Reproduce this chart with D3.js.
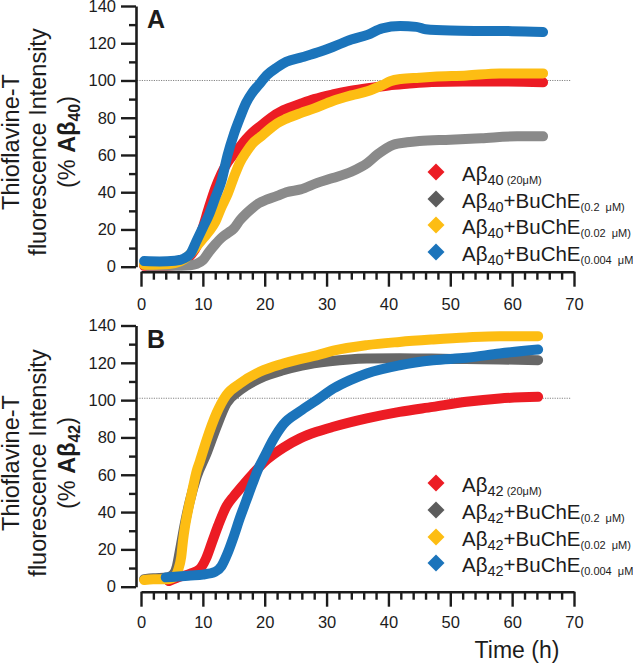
<!DOCTYPE html>
<html><head><meta charset="utf-8">
<script src="https://cdn.jsdelivr.net/npm/d3@7/dist/d3.min.js"></script>
<style>
html,body{margin:0;padding:0;background:#fff;}
svg{display:block;font-family:"Liberation Sans",Arial,Helvetica,sans-serif;}
</style></head><body>
<svg id="chart" width="633" height="666"></svg>
<script>
// ---------- data ----------
const xTicks = [0, 10, 20, 30, 40, 50, 60, 70];
const yTicks = [0, 20, 40, 60, 80, 100, 120, 140];
const legendNames = ["(20μM)", "(0.2  μM)", "(0.02  μM)", "(0.004  μM)"];

// Panel A (Aβ40)
const tA_red    = [0.5, 3, 6, 7, 8, 9, 10, 11, 12, 13, 14, 15, 16, 17, 18, 19.5, 21, 23, 25.8, 28, 31, 34, 37, 40, 43, 47, 52, 58, 65];
const vA_red    = [0.5, 0.3, 1, 2.5, 6, 11, 21, 32, 42, 50, 56, 60.5, 64.5, 68.5, 72, 76, 80, 84, 87.5, 90, 92.5, 94.5, 96, 97.3, 98.2, 99.2, 99.5, 99.5, 99];
const tA_gray   = [1, 5, 8, 9, 10, 11, 12, 13, 14, 15, 16, 17, 18, 19, 20.3, 22, 23.5, 25.8, 28.5, 31, 34, 36.6, 38.2, 40.8, 43, 45, 50, 55, 60.8, 65];
const vA_gray   = [0.5, 0.5, 0.8, 1.5, 3.5, 8, 12, 15.5, 18, 20.5, 25, 28.5, 31.5, 34, 36, 38, 40, 41.5, 45, 47.6, 51, 55.7, 60.2, 65.5, 66.8, 67.5, 68.2, 69, 70, 70];
const tA_yellow = [0.5, 3, 5.5, 7, 8, 9, 10, 11, 12, 13, 14, 15, 16, 17, 18, 19.4, 21, 22, 23.5, 25.8, 28, 31, 34, 36.6, 39, 40.3, 42, 45, 47.3, 52.7, 58, 65];
const vA_yellow = [1, 1.2, 2, 4, 7, 11, 15, 19, 24, 32, 39, 48, 56, 61.5, 66, 70, 74.5, 77, 79.5, 82.5, 85, 89, 92, 94.2, 97.5, 99.6, 100.8, 101.5, 102, 102.7, 103.8, 103.8];
const tA_blue   = [0.5, 3, 5.5, 7, 8, 9, 10, 11, 12, 13, 14, 15, 16, 17, 18, 19, 20.4, 22, 23.5, 26, 28.5, 31, 34, 36.6, 39, 41.9, 44.5, 46, 50, 55, 60, 65];
const vA_blue   = [3, 2.8, 3.2, 4.5, 7, 14, 21, 28, 37, 46, 60, 71, 80, 88, 93.5, 97.5, 103, 107, 110, 112.5, 115, 118, 122, 124.5, 128, 129.2, 128.8, 127.5, 126.8, 126.6, 126.5, 126];

// Panel B (Aβ42)
const tB_red    = [4.5, 6, 8, 9.5, 10.5, 11.5, 12.5, 13.8, 15, 16, 18.1, 20.3, 23, 25.7, 28.4, 31.1, 36.5, 41.8, 47.2, 52.6, 58, 64.2];
const vB_red    = [3, 5, 7, 9.5, 15, 24, 33, 43, 48.5, 52.5, 60.5, 68, 74.5, 79.5, 83, 85.7, 90.2, 93.7, 96.4, 99.1, 100.9, 101.8];
const tB_gray   = [0.5, 2, 4.3, 5.3, 5.8, 6.3, 7.1, 7.9, 9, 10.6, 12.2, 13.8, 16, 19.2, 23, 26, 30.5, 36.5, 41.8, 47, 52.6, 58, 64.2];
const vB_gray   = [4, 4.5, 5, 7, 11, 19.6, 34, 46, 58.9, 71.4, 85.7, 98.2, 105.3, 111.6, 116, 118.5, 120.8, 122.3, 122.5, 122.3, 122, 121.8, 121.4];
const tB_yellow = [0.5, 2, 4.3, 5.5, 6, 6.5, 6.8, 7.1, 7.6, 8.2, 9, 9.5, 10.6, 12.2, 13.8, 16, 19.2, 23, 25.7, 28.4, 31.1, 36.5, 41.8, 47.2, 52.6, 58, 64.2];
const vB_yellow = [3.6, 4, 4, 5.5, 9, 16, 25, 32, 41, 50, 62, 67, 78.6, 92.9, 102.7, 108.9, 115.2, 119.6, 122, 124, 126.5, 129.5, 131.2, 132.5, 133.6, 134.3, 134.3];
const tB_blue   = [4, 6, 8, 10, 12, 13, 14, 15, 16, 17, 18, 19, 20, 21.4, 23, 25.7, 28.4, 31.1, 33.8, 36.5, 41.8, 47.2, 52.6, 58, 64.2];
const vB_blue   = [5, 5.5, 6, 6.5, 8, 11, 18, 27, 37, 46, 55, 63.5, 70, 79, 87, 94, 100, 106.2, 110.7, 114.3, 118.7, 121.4, 122.7, 125, 127.1];

// ---------- drawing ----------
const svg = d3.select("#chart");
const ink = "#1c1c1c";
const x = d3.scaleLinear().domain([0, 70]).range([141, 574]);
const legendColors = ["#ec1c24", "#5c5c5c", "#fdbd13", "#1b74bb"];

const panels = [
  { letter: "A", sub: "40", y0: 266.7, y140: 6, xAxisY: 271.7, tickPad: 12, ref: 100,
    labelCY: 142, letterY: 28, legendY: [172, 199, 225, 252],
    series: [
      { t: tA_red, v: vA_red, color: "#ec1c24" },
      { t: tA_gray, v: vA_gray, color: "#8a8a8a" },
      { t: tA_yellow, v: vA_yellow, color: "#fdbd13" },
      { t: tA_blue, v: vA_blue, color: "#1b74bb" } ] },
  { letter: "B", sub: "42", y0: 586.7, y140: 325.5, xAxisY: 591.7, tickPad: 10, ref: 101,
    labelCY: 463, letterY: 348, legendY: [483, 510, 537, 563],
    series: [
      { t: tB_red, v: vB_red, color: "#ec1c24" },
      { t: tB_gray, v: vB_gray, color: "#676767" },
      { t: tB_yellow, v: vB_yellow, color: "#fdbd13" },
      { t: tB_blue, v: vB_blue, color: "#1b74bb" } ] }
];

panels.forEach(p => {
  const y = d3.scaleLinear().domain([0, 140]).range([p.y0, p.y140]);
  const g = svg.append("g");

  // reference dotted line
  g.append("line")
    .attr("x1", 137).attr("x2", 571)
    .attr("y1", y(p.ref)).attr("y2", y(p.ref))
    .attr("stroke", "#777").attr("stroke-width", 0.9)
    .attr("stroke-dasharray", "1.2,1.2");

  // series (thick dense markers -> thick round-capped paths)
  const line = d3.line().x(d => x(d[0])).y(d => y(d[1])).curve(d3.curveMonotoneX);
  p.series.forEach(s => {
    g.append("path")
      .datum(d3.zip(s.t, s.v))
      .attr("d", line)
      .attr("fill", "none")
      .attr("stroke", s.color)
      .attr("stroke-width", 10)
      .attr("stroke-linecap", "round")
      .attr("stroke-linejoin", "round");
  });

  // y axis
  const yMinor = d3.range(10, 140, 20);
  g.append("g").attr("transform", "translate(136,0)")
    .call(d3.axisLeft(y).tickValues(yTicks).tickSize(15).tickSizeOuter(0).tickPadding(5));
  g.append("g").attr("transform", "translate(136,0)")
    .call(d3.axisLeft(y).tickValues(yMinor).tickSize(7).tickFormat(""))
    .select(".domain").remove();

  // x axis
  const xMinor = d3.range(2, 70, 2).filter(v => v % 10 !== 0);
  g.append("g").attr("transform", `translate(0,${p.xAxisY})`)
    .call(d3.axisBottom(x).tickValues(xTicks).tickSize(15).tickSizeOuter(0).tickPadding(p.tickPad));
  g.append("g").attr("transform", `translate(0,${p.xAxisY})`)
    .call(d3.axisBottom(x).tickValues(xMinor).tickSize(8).tickFormat(""))
    .select(".domain").remove();

  // panel letter
  g.append("text").attr("x", 147).attr("y", p.letterY)
    .attr("font-size", 25).attr("font-weight", "bold").attr("fill", ink).text(p.letter);

  // y label (3 lines, rotated)
  const lab = (bx, fn) => {
    const t = g.append("text")
      .attr("transform", `translate(${bx},${p.labelCY}) rotate(-90)`)
      .attr("text-anchor", "middle").attr("font-size", 23.5).attr("fill", ink);
    fn(t);
  };
  lab(19, t => t.text("Thioflavine-T"));
  lab(46, t => t.text("fluorescence Intensity"));
  lab(75, t => {
    t.append("tspan").text("(% ");
    t.append("tspan").attr("font-weight", "bold").text("Aβ");
    t.append("tspan").attr("font-weight", "bold").attr("font-size", 16).attr("dy", 5).text(p.sub);
    t.append("tspan").attr("dy", -5).text(")");
  });

  // legend
  p.legendY.forEach((ly, i) => {
    g.append("rect")
      .attr("x", -6).attr("y", -6).attr("width", 12).attr("height", 12)
      .attr("transform", `translate(436,${ly}) rotate(45)`)
      .attr("fill", legendColors[i]);
    const t = g.append("text").attr("x", 462).attr("y", ly + 9)
      .attr("font-size", 20.5).attr("fill", ink).style("white-space", "pre");
    t.append("tspan").text("Aβ");
    t.append("tspan").attr("font-size", 14.5).attr("dy", 4).text(p.sub);
    if (i === 0) {
      t.append("tspan").attr("font-size", 11).attr("dy", -1).text(" " + legendNames[i]);
    } else {
      t.append("tspan").attr("dy", -4).text("+BuChE");
      t.append("tspan").attr("font-size", 11).attr("dy", 3).text(legendNames[i]);
    }
  });
});

// axis styling
svg.selectAll(".domain").attr("stroke", ink).attr("stroke-width", 2.6);
svg.selectAll(".tick line").attr("stroke", ink).attr("stroke-width", 2.4);
svg.selectAll(".tick text").attr("font-size", 16.5).attr("fill", ink)
  .attr("font-family", "'Liberation Sans', Arial, sans-serif");

// x axis title
svg.append("text").attr("x", 517).attr("y", 658).attr("text-anchor", "middle")
  .attr("font-size", 23).attr("fill", ink).text("Time (h)");
</script>
</body></html>
